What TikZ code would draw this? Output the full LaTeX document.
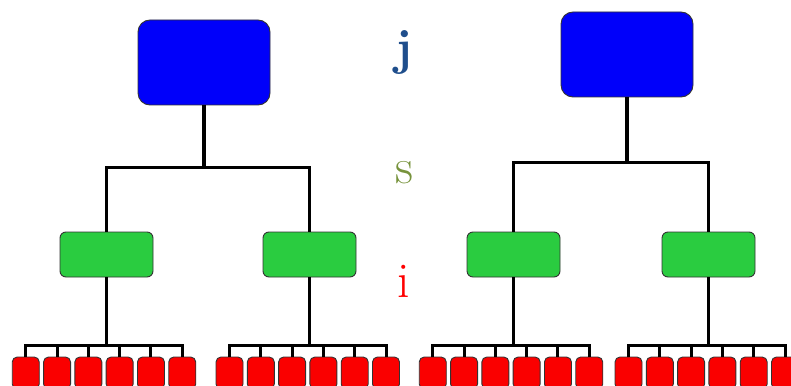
\documentclass[tikz,border=0pt]{standalone}
\definecolor{boxblue}{RGB}{0,0,250}
\definecolor{boxgreen}{RGB}{42,204,64}
\definecolor{boxred}{RGB}{250,0,0}
\definecolor{jcol}{RGB}{31,78,140}
\definecolor{scol}{RGB}{119,147,60}
\tikzset{
	topbox/.style={draw=black!80, line width=0.9pt, fill=boxblue, rounded corners=12pt, minimum width=132pt, minimum height=85pt},
	midbox/.style={draw=black!80, line width=0.9pt, fill=boxgreen, rounded corners=6pt, minimum width=93pt, minimum height=45pt},
	leafbox/.style={draw=black!80, line width=0.9pt, fill=boxred, rounded corners=5pt, minimum width=27pt, minimum height=32pt},
	trunk/.style={line width=3.5pt},
	twig/.style={line width=3pt},
	levelname/.style={anchor=base, inner sep=0pt, font=\fontsize{50}{50}\selectfont}
}
\begin{document}
\begin{tikzpicture}[x=1pt,y=-1pt]
	\useasboundingbox (0,0) rectangle (791,385);
	\clip (0,0) rectangle (791,385);
	% top level
	\node[topbox] (jl) at (204,62.5) {};
	\node[topbox] (jr) at (627,54.5) {};
	% middle level
	\node[midbox] (sa) at (106.5,254.5) {};
	\node[midbox] (sb) at (309.5,254.5) {};
	\node[midbox] (sc) at (513.5,254.5) {};
	\node[midbox] (sd) at (708.5,254.5) {};
	% bottom level
	\foreach \g/\cx in {a/104,b/307.75,c/511,d/706.75}
		\foreach \k in {1,...,6}
			\node[leafbox] (i\g\k) at ({\cx+(\k-3.5)*31.3},373) {};
	% connectors
	\draw[trunk] (jl.south) -- ++(0,62) -| (sa.north);
	\draw[trunk] (jl.south) -- ++(0,62) -| (sb.north);
	\draw[trunk] (jr.south) -- ++(0,65) -| (sc.north);
	\draw[trunk] (jr.south) -- ++(0,65) -| (sd.north);
	\foreach \g in {a,b,c,d}
		\foreach \k in {1,...,6}
			\draw[twig] (s\g.south) -- ++(0,68) -| (i\g\k.north);
	% level names
	\node[levelname, text=jcol, font=\fontsize{50}{50}\selectfont\bfseries] (j) at (404,65) {j};
	\node[levelname, text=scol] (s) at (404,183) {s};
	\node[levelname, text=red] (i) at (404,297) {i};
\end{tikzpicture}
\end{document}
